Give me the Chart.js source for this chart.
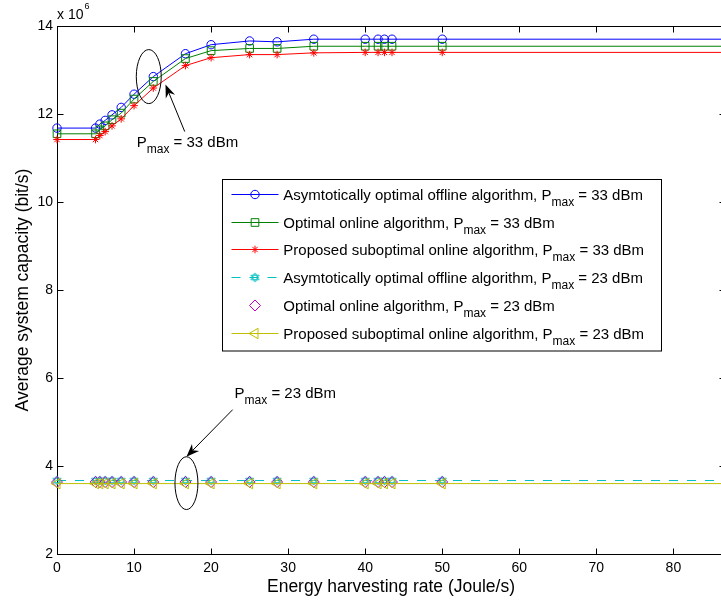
<!DOCTYPE html>
<html><head><meta charset="utf-8">
<script src="https://cdn.jsdelivr.net/npm/chart.js@4.4.1/dist/chart.umd.min.js"></script>
<style>
html,body{margin:0;padding:0;overflow:hidden;background:#fff;width:721px;height:605px}
#wrap{position:relative;width:721px;height:605px;overflow:hidden}
canvas{display:block}
</style></head>
<body><div id="wrap"><canvas id="c" width="760" height="605" style="width:760px;height:605px"></canvas></div>
<script>
// ---------- data (capacity in units of 10^6 bit/s) ----------
const harvestRate = [0, 5, 5.56, 6.25, 7.14, 8.33, 10, 12.5, 16.67, 20, 25, 28.57, 33.33, 40, 41.67, 42.5, 43.48, 50, 86.7];
const offline33 = [11.68, 11.68, 11.77, 11.855, 11.98, 12.15, 12.45, 12.85, 13.37, 13.575, 13.66, 13.64, 13.70, 13.70, 13.70, 13.70, 13.70, 13.70, 13.70];
const online33  = [11.55, 11.55, 11.64, 11.73, 11.87, 12.02, 12.34, 12.74, 13.26, 13.44, 13.49, 13.49, 13.54, 13.54, 13.54, 13.54, 13.54, 13.54, 13.54];
const subopt33  = [11.42, 11.42, 11.51, 11.60, 11.73, 11.89, 12.19, 12.59, 13.10, 13.28, 13.35, 13.35, 13.39, 13.40, 13.40, 13.40, 13.40, 13.40, 13.40];
const offline23 = [3.67, 3.67, 3.67, 3.67, 3.67, 3.67, 3.67, 3.67, 3.67, 3.67, 3.67, 3.67, 3.67, 3.67, 3.67, 3.67, 3.67, 3.67, 3.67];
const online23  = [3.635, 3.635, 3.635, 3.635, 3.635, 3.635, 3.635, 3.635, 3.635, 3.635, 3.635, 3.635, 3.635, 3.635, 3.635, 3.635, 3.635, 3.635, 3.635];
const subopt23  = [3.60, 3.60, 3.60, 3.60, 3.60, 3.60, 3.60, 3.60, 3.60, 3.60, 3.60, 3.60, 3.60, 3.60, 3.60, 3.60, 3.60, 3.60, 3.60];
const seriesNames = [
  'Asymtotically optimal offline algorithm, P_max = 33 dBm',
  'Optimal online algorithm, P_max = 33 dBm',
  'Proposed suboptimal online algorithm, P_max = 33 dBm',
  'Asymtotically optimal offline algorithm, P_max = 23 dBm',
  'Optimal online algorithm, P_max = 23 dBm',
  'Proposed suboptimal online algorithm, P_max = 23 dBm'
];
const xTickLabels = [0, 10, 20, 30, 40, 50, 60, 70, 80];
const yTickLabels = [2, 4, 6, 8, 10, 12, 14];
const xLimits = [0, 86.7];
const yLimits = [2, 14];

const FONT = "'Liberation Sans', Arial, Helvetica, sans-serif";

// annotations (data coordinates)
const notes = [
  {ell:{x:11.91, y:12.85, rx:1.62, ry:0.614}, from:{x:16.58, y:11.6}, to:{x:14.08, y:12.67}, at:{x:10.35, y:11.26}, text:['P','max',' = 33 dBm']},
  {ell:{x:16.8, y:3.61, rx:1.49, ry:0.60}, from:{x:22.8, y:5.28}, to:{x:16.8, y:4.21}, at:{x:23.05, y:5.545}, text:['P','max',' = 23 dBm']}
];

// hexagram marker
function hexagram(color, r){
  const s = Math.ceil(r*2+3), c = document.createElement('canvas');
  c.width = s; c.height = s;
  const g = c.getContext('2d'), m = s/2;
  g.strokeStyle = color; g.lineWidth = 1;
  [ -90, 90 ].forEach(a0=>{
    g.beginPath();
    for(let k=0;k<3;k++){
      const a = (a0 + k*120)*Math.PI/180;
      const px = m + r*Math.cos(a), py = m + r*Math.sin(a);
      k ? g.lineTo(px,py) : g.moveTo(px,py);
    }
    g.closePath(); g.stroke();
  });
  return c;
}

const last = harvestRate.length - 1;
function pts(arr){ return harvestRate.map((x,i)=>({x, y: arr[i]})); }
function radii(r){ return harvestRate.map((x,i)=> i===last ? 0 : r); }

const styles = [
  {color:'#0000ff', pointStyle:'circle', r:4.2, legendR:4.2},
  {color:'#008000', pointStyle:'rect', r:5.4, legendR:5.4},
  {color:'#ff0000', pointStyle:'star', r:3.8, legendR:3.8},
  {color:'#00bfbf', pointStyle:hexagram('#00bfbf',4.6), r:4.6, legendR:4.6, dash:[9,9]},
  {color:'#bf00bf', pointStyle:'rectRot', r:5.5, legendR:5.5, noLine:true},
  {color:'#bfbf00', pointStyle:'triangle', r:6, legendR:6, rot:-90}
];
const seriesData = [offline33, online33, subopt33, offline23, online23, subopt23];

const datasets = seriesData.map((arr,i)=>{
  const s = styles[i];
  return {
    label: seriesNames[i],
    data: pts(arr),
    borderColor: s.color,
    backgroundColor: 'rgba(0,0,0,0)',
    pointBackgroundColor: 'rgba(0,0,0,0)',
    pointBorderColor: s.color,
    pointBorderWidth: 1,
    borderWidth: 1,
    borderDash: s.dash || [],
    pointStyle: s.pointStyle,
    pointRotation: s.rot || 0,
    pointRadius: radii(s.r),
    showLine: !s.noLine,
    tension: 0,
    clip: false,
    order: 10 - i
  };
});

function drawRich(ctx, x, y, parts, size, subSize, subDy){
  ctx.textAlign = 'left'; ctx.textBaseline = 'alphabetic';
  ctx.font = size + 'px ' + FONT;
  ctx.fillText(parts[0], x, y); x += ctx.measureText(parts[0]).width;
  ctx.font = subSize + 'px ' + FONT;
  ctx.fillText(parts[1], x, y + subDy); x += ctx.measureText(parts[1]).width;
  ctx.font = size + 'px ' + FONT;
  ctx.fillText(parts[2], x, y);
}

function drawArrow(ctx, x1, y1, x2, y2){
  const a = Math.atan2(y2-y1, x2-x1), L = 13, W = 5, N = 9;
  const bx = x2 - Math.cos(a)*N, by = y2 - Math.sin(a)*N;
  ctx.beginPath(); ctx.moveTo(x1,y1); ctx.lineTo(bx,by); ctx.stroke();
  const cx = x2 - Math.cos(a)*L, cy = y2 - Math.sin(a)*L;
  const nx = -Math.sin(a), ny = Math.cos(a);
  ctx.beginPath();
  ctx.moveTo(x2,y2);
  ctx.lineTo(cx + nx*W, cy + ny*W);
  ctx.lineTo(bx, by);
  ctx.lineTo(cx - nx*W, cy - ny*W);
  ctx.closePath(); ctx.fill();
}

const framePlugin = {
  id:'frame',
  beforeDatasetsDraw(chart){
    const {ctx, chartArea:a, scales:{x, y}} = chart;
    ctx.save();
    ctx.strokeStyle = '#000'; ctx.lineWidth = 1;
    const L = Math.round(a.left)+0.5, R = Math.round(a.right)+0.5, T = Math.round(a.top)+0.5, B = Math.round(a.bottom)+0.5;
    ctx.strokeRect(L, T, R-L, B-T);
    ctx.beginPath();
    x.ticks.forEach(t=>{
      const px = Math.round(x.getPixelForValue(t.value))+0.5;
      ctx.moveTo(px, B); ctx.lineTo(px, B-6);
      ctx.moveTo(px, T); ctx.lineTo(px, T+6);
    });
    y.ticks.forEach(t=>{
      const py = Math.round(y.getPixelForValue(t.value))+0.5;
      ctx.moveTo(L, py); ctx.lineTo(L+6, py);
      ctx.moveTo(R, py); ctx.lineTo(R-6, py);
    });
    ctx.stroke();
    // exponent label
    ctx.fillStyle = '#000';
    ctx.font = '14px ' + FONT; ctx.textBaseline = 'alphabetic'; ctx.textAlign = 'left';
    ctx.fillText('x 10', a.left, a.top - 7);
    const w = ctx.measureText('x 10').width;
    ctx.font = '9px ' + FONT;
    ctx.fillText('6', a.left + w + 1, a.top - 17);
    ctx.restore();
  },
  afterDatasetsDraw(chart){
    const {ctx, scales:{x, y}} = chart;
    ctx.save();
    ctx.strokeStyle = '#000'; ctx.fillStyle = '#000'; ctx.lineWidth = 1;
    notes.forEach(n=>{
      const cx = x.getPixelForValue(n.ell.x), cy = y.getPixelForValue(n.ell.y);
      const rx = Math.abs(x.getPixelForValue(n.ell.x + n.ell.rx) - cx);
      const ry = Math.abs(y.getPixelForValue(n.ell.y + n.ell.ry) - cy);
      ctx.beginPath(); ctx.ellipse(cx, cy, rx, ry, 0, 0, Math.PI*2); ctx.stroke();
      drawArrow(ctx, x.getPixelForValue(n.from.x), y.getPixelForValue(n.from.y), x.getPixelForValue(n.to.x), y.getPixelForValue(n.to.y));
      drawRich(ctx, x.getPixelForValue(n.at.x), y.getPixelForValue(n.at.y), n.text, 15, 12, 6);
    });
    // legend
    const bx = 222.5, by = 179.5, bw = 439, bh = 171.5;
    ctx.fillStyle = '#fff'; ctx.fillRect(bx, by, bw, bh);
    ctx.strokeStyle = '#000'; ctx.strokeRect(bx, by, bw, bh);
    chart.data.datasets.forEach((ds, i)=>{
      const s = styles[i];
      const cy = Math.round(194 + i*27.74) + 0.5;
      ctx.strokeStyle = s.color; ctx.lineWidth = 1;
      if (!s.noLine){
        ctx.setLineDash(s.dash || []);
        ctx.beginPath(); ctx.moveTo(231.5, cy); ctx.lineTo(278.5, cy); ctx.stroke();
        ctx.setLineDash([]);
      }
      ctx.fillStyle = 'rgba(0,0,0,0)';
      Chart.helpers.drawPoint(ctx, {pointStyle: s.pointStyle, radius: s.legendR, borderWidth: 1, rotation: s.rot || 0}, 255, cy);
      ctx.fillStyle = '#000';
      const parts = ds.label.split('_max');
      drawRich(ctx, 283.3, cy + 5, [parts[0], 'max', parts[1]], 15, 12, 6);
    });
    ctx.restore();
  }
};

new Chart(document.getElementById('c'), {
  type: 'scatter',
  data: { datasets },
  plugins: [framePlugin],
  options: {
    responsive: false, animation: false, devicePixelRatio: 1, events: [],
    layout: { padding: { top: 26, right: 35, left: 0, bottom: 0 } },
    plugins: { legend: { display: false }, tooltip: { enabled: false } },
    scales: {
      x: {
        type: 'linear', min: xLimits[0], max: xLimits[1],
        afterFit: s => { s.height = 51; },
        afterBuildTicks: s => { s.ticks = xTickLabels.map(v => ({ value: v })); },
        grid: { display: false, drawTicks: false },
        border: { display: false },
        ticks: { font: { family: FONT, size: 14 }, color: '#000', padding: 6, maxRotation: 0, autoSkip: false },
        title: { display: true, text: 'Energy harvesting rate (Joule/s)', color: '#000', font: { family: FONT, size: 17.5 }, padding: { top: 0, bottom: 7.5 } }
      },
      y: {
        type: 'linear', min: yLimits[0], max: yLimits[1],
        afterFit: s => { s.width = 57; },
        afterBuildTicks: s => { s.ticks = yTickLabels.map(v => ({ value: v })); },
        grid: { display: false, drawTicks: false },
        border: { display: false },
        ticks: { font: { family: FONT, size: 14 }, color: '#000', padding: 4 },
        title: { display: true, text: 'Average system capacity (bit/s)', color: '#000', font: { family: FONT, size: 17.5 }, padding: { top: 12.5, bottom: 0 } }
      }
    }
  }
});
</script>
</body></html>
